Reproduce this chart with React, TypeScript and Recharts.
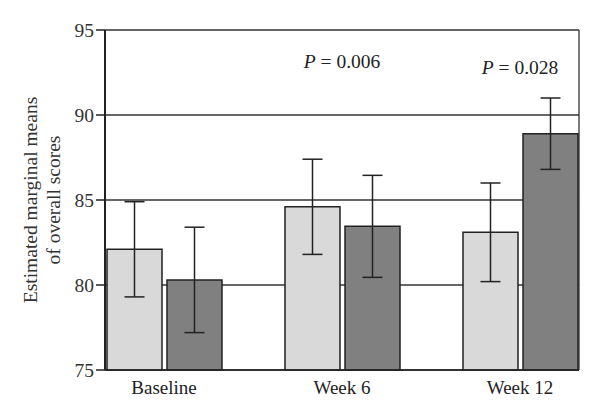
import React from 'react';
import {
  BarChart,
  Bar,
  XAxis,
  YAxis,
  CartesianGrid,
  ErrorBar,
  ReferenceDot,
  Label,
} from 'recharts';

const categories = ['Baseline', 'Week 6', 'Week 12'];
const groupA = [82.1, 84.6, 83.1];
const groupAErr = [2.8, 2.8, 2.9];
const groupB = [80.3, 83.45, 88.9];
const groupBErr = [3.1, 3.0, 2.1];
const yTicks = [75, 80, 85, 90, 95];
const pNotes = [
  { cat: 'Week 6', y: 93.2, text: '0.006' },
  { cat: 'Week 12', y: 92.8, text: '0.028' },
];

const data = categories.map((c, i) => ({
  name: c,
  a: groupA[i],
  aErr: groupAErr[i],
  b: groupB[i],
  bErr: groupBErr[i],
}));

const FONT = '"Liberation Serif", "DejaVu Serif", serif';

const YLabel = ({ viewBox }: any) => {
  const cy = viewBox.y + viewBox.height / 2;
  return (
    <g>
      <text
        x={30}
        y={cy}
        transform={`rotate(-90 30 ${cy})`}
        textAnchor="middle"
        dominantBaseline="central"
        fontFamily={FONT}
        fontSize={19.5}
        fill="#333"
      >
        Estimated marginal means
      </text>
      <text
        x={53}
        y={cy}
        transform={`rotate(-90 53 ${cy})`}
        textAnchor="middle"
        dominantBaseline="central"
        fontFamily={FONT}
        fontSize={19.5}
        fill="#333"
      >
        of overall scores
      </text>
    </g>
  );
};

const PLabel = (text: string) => ({ viewBox }: any) => {
  const x = viewBox.x + (viewBox.width || 0) / 2;
  const y = viewBox.y + (viewBox.height || 0) / 2;
  return (
    <text
      x={x}
      y={y}
      textAnchor="middle"
      dominantBaseline="central"
      fontFamily={FONT}
      fontSize={19.5}
      fill="#222"
    >
      <tspan fontStyle="italic">P</tspan>
      <tspan> = {text}</tspan>
    </text>
  );
};

// right-hand frame line at the plot's right edge
const rightEdge = ({ offset }: any) => [offset.left + offset.width];

export default function App() {
  return (
    <div style={{ position: 'absolute', left: 0, top: 0, background: '#fff' }}>
      <BarChart
        width={600}
        height={420}
        data={data}
        margin={{ top: 30, right: 21, bottom: 20, left: 0 }}
        barCategoryGap={32}
        barGap={5}
      >
        <CartesianGrid
          yAxisId="left"
          stroke="#333"
          strokeWidth={1.3}
          verticalCoordinatesGenerator={rightEdge}
        />
        <XAxis
          dataKey="name"
          height={30}
          padding={{ left: -30, right: -30 }}
          tickLine={false}
          axisLine={{ stroke: '#222', strokeWidth: 1.5 }}
          tick={{ fontFamily: FONT, fontSize: 19, fill: '#222' }}
          tickMargin={5}
        />
        <YAxis
          yAxisId="left"
          domain={[75, 95]}
          ticks={yTicks}
          width={105}
          tickSize={9}
          axisLine={{ stroke: '#222', strokeWidth: 2 }}
          tickLine={{ stroke: '#222', strokeWidth: 1.5 }}
          tick={{ fontFamily: FONT, fontSize: 19.5, fill: '#333' }}
        >
          <Label content={YLabel} />
        </YAxis>
        <Bar
          yAxisId="left"
          dataKey="a"
          fill="#d9d9d9"
          stroke="#222"
          strokeWidth={1.5}
          isAnimationActive={false}
        >
          <ErrorBar dataKey="aErr" width={10} stroke="#222" strokeWidth={1.5} />
        </Bar>
        <Bar
          yAxisId="left"
          dataKey="b"
          fill="#808080"
          stroke="#222"
          strokeWidth={1.5}
          isAnimationActive={false}
        >
          <ErrorBar dataKey="bErr" width={10} stroke="#222" strokeWidth={1.5} />
        </Bar>
        {pNotes.map((p) => (
          <ReferenceDot
            key={p.cat}
            yAxisId="left"
            x={p.cat}
            y={p.y}
            r={0}
            fill="none"
            stroke="none"
            label={PLabel(p.text)}
          />
        ))}
      </BarChart>
    </div>
  );
}
